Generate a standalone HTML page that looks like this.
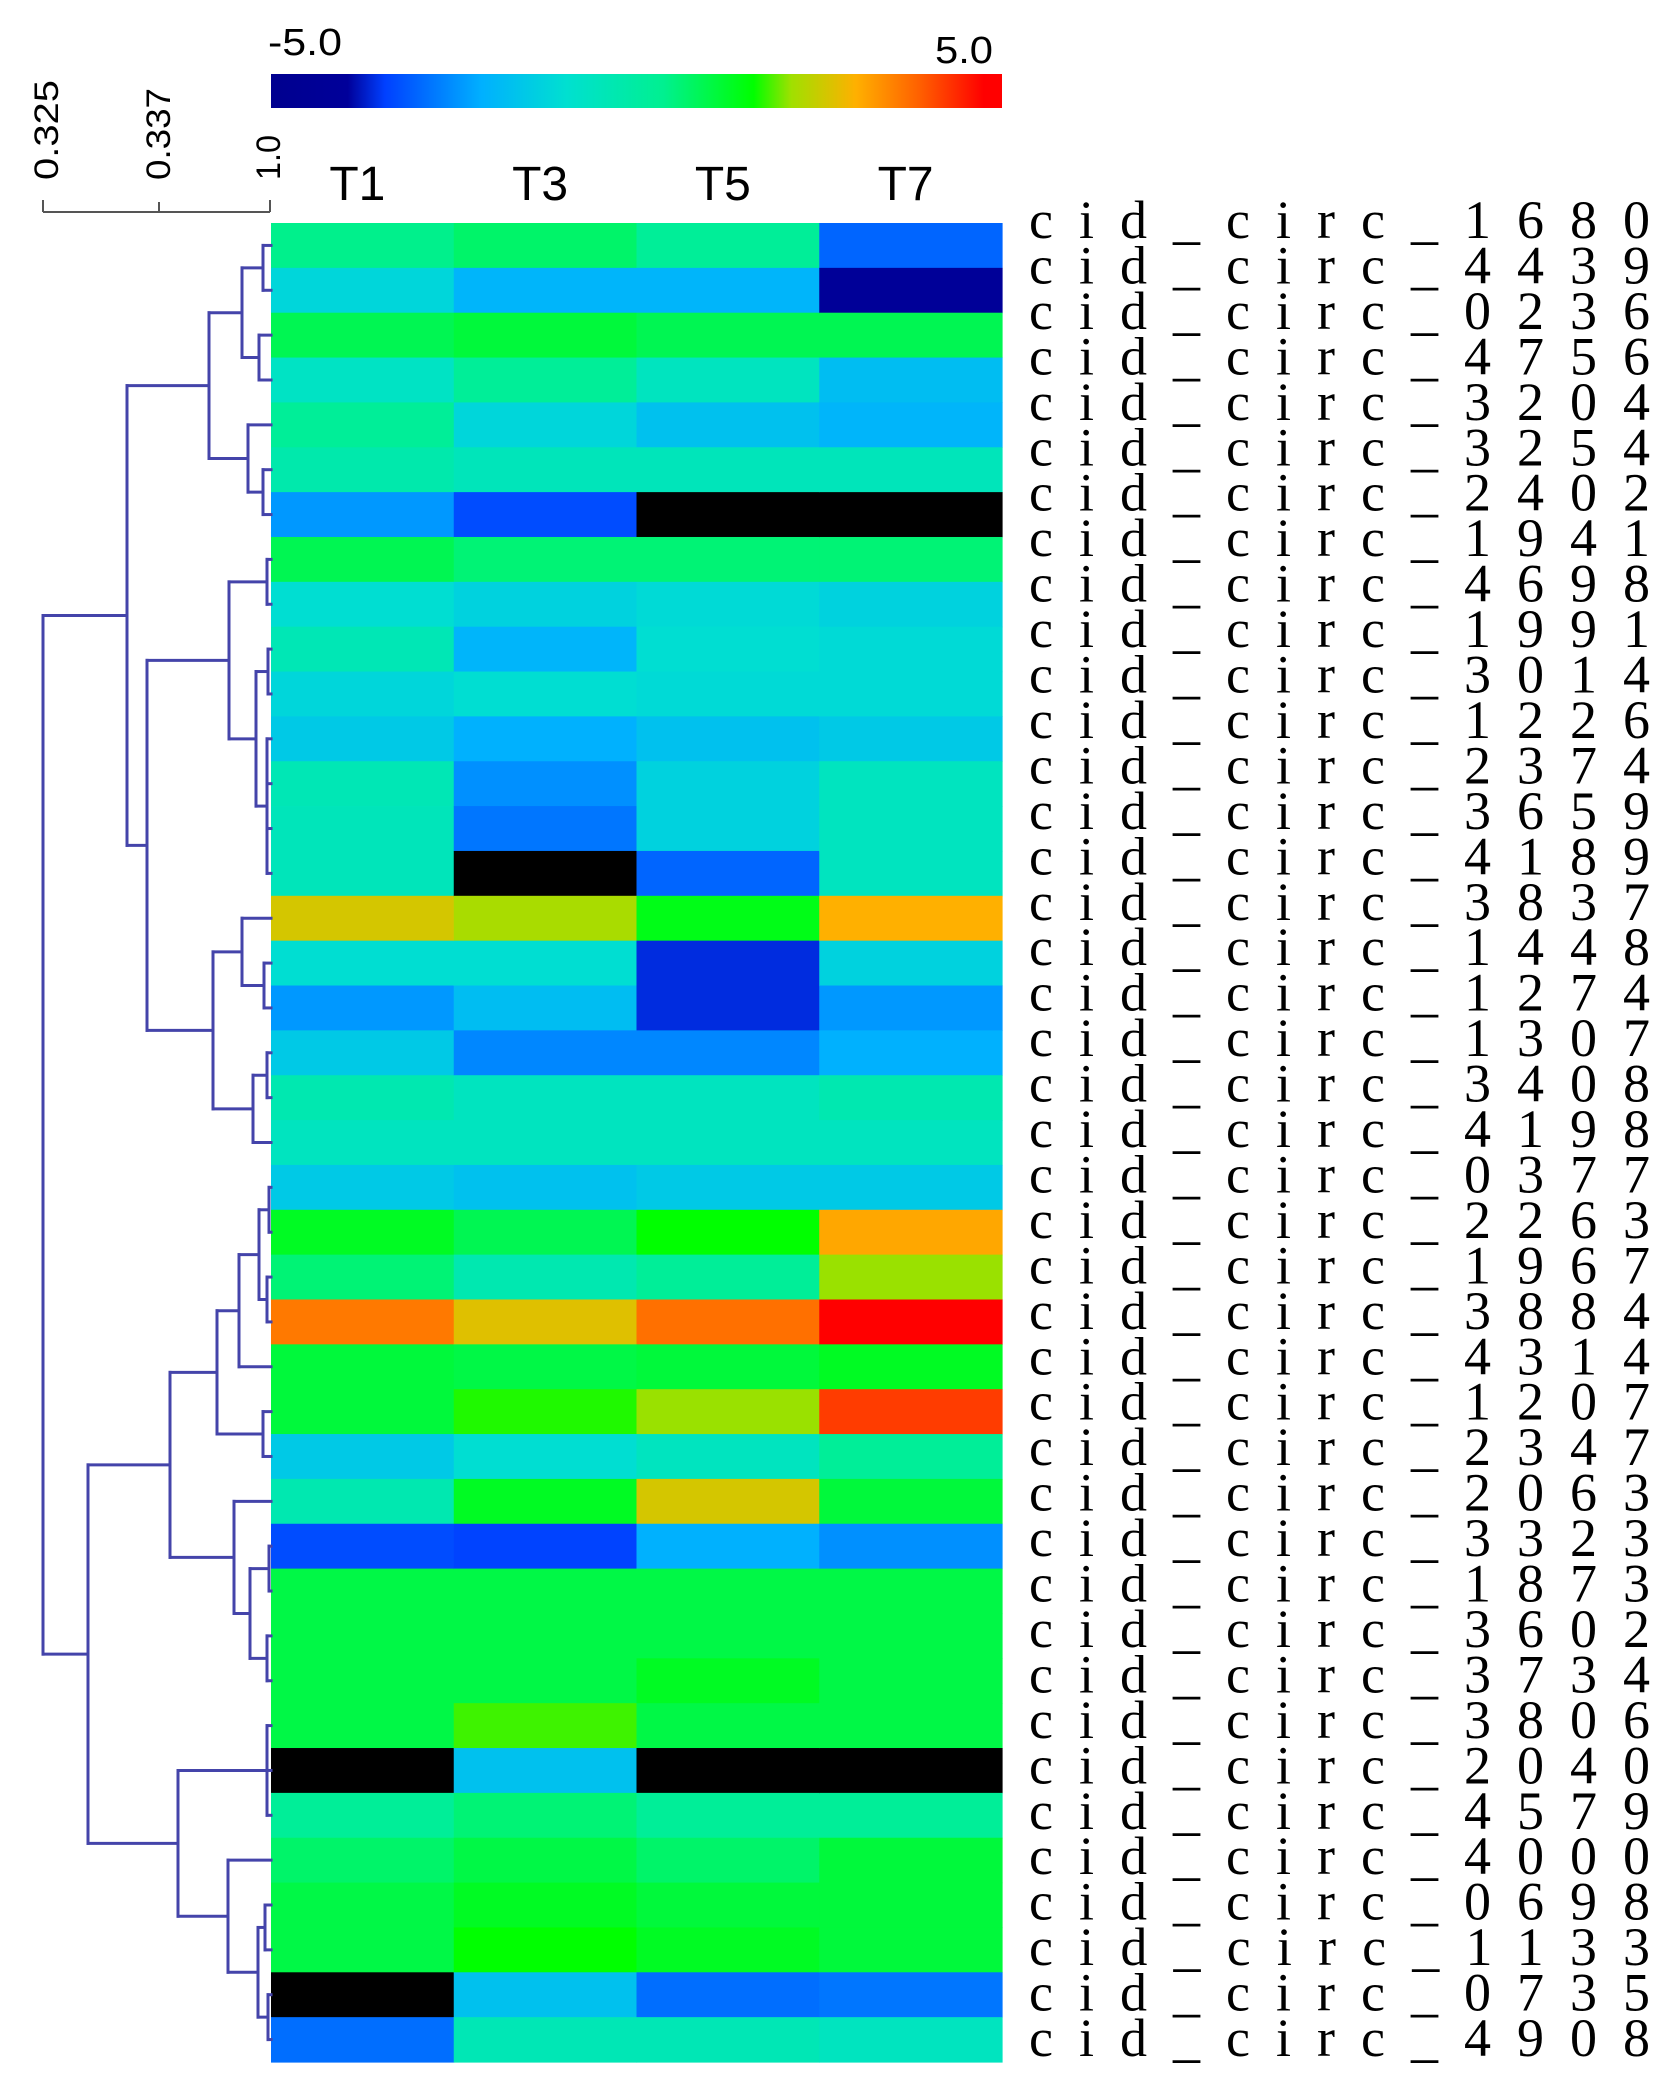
<!DOCTYPE html>
<html><head><meta charset="utf-8"><style>
html,body{margin:0;padding:0;background:#fff;}
svg{display:block;}
</style></head><body>
<svg id="chart" width="1675" height="2097" viewBox="0 0 1675 2097" xmlns="http://www.w3.org/2000/svg">
<defs>
<linearGradient id="cbar" x1="0" x2="1" y1="0" y2="0">
<stop offset="0" stop-color="#00008f"/><stop offset="0.105" stop-color="#00009a"/>
<stop offset="0.156" stop-color="#0040ff"/><stop offset="0.288" stop-color="#00b0ff"/>
<stop offset="0.405" stop-color="#00e0d0"/><stop offset="0.537" stop-color="#00f090"/>
<stop offset="0.66" stop-color="#00ff00"/><stop offset="0.712" stop-color="#a0e000"/>
<stop offset="0.80" stop-color="#ffb000"/><stop offset="0.887" stop-color="#ff6000"/>
<stop offset="0.975" stop-color="#ff0000"/><stop offset="1" stop-color="#ff0000"/>
</linearGradient>
</defs>
<rect x="271" y="74" width="731" height="34" fill="url(#cbar)"/>
<text x="268" y="55" font-family="Liberation Sans, sans-serif" font-size="38" textLength="74" lengthAdjust="spacingAndGlyphs">-5.0</text>
<text x="993" y="63" text-anchor="end" font-family="Liberation Sans, sans-serif" font-size="38" textLength="58" lengthAdjust="spacingAndGlyphs">5.0</text>
<g stroke="#555" stroke-width="2" fill="none">
<line x1="43" y1="212" x2="270" y2="212"/><line x1="43" y1="200" x2="43" y2="212"/><line x1="159" y1="202" x2="159" y2="212"/><line x1="270" y1="200" x2="270" y2="212"/>
</g>
<text transform="translate(58,180) rotate(-90)" font-family="Liberation Sans, sans-serif" font-size="34" textLength="100" lengthAdjust="spacingAndGlyphs">0.325</text>
<text transform="translate(170,180) rotate(-90)" font-family="Liberation Sans, sans-serif" font-size="34" textLength="92" lengthAdjust="spacingAndGlyphs">0.337</text>
<text transform="translate(280,180) rotate(-90)" font-family="Liberation Sans, sans-serif" font-size="34" textLength="45" lengthAdjust="spacingAndGlyphs">1.0</text>
<g id="cells"></g><g id="cols"></g><g id="rows"></g><g id="dendro"></g>
</svg>
<script>
const columns = ["T1","T3","T5","T7"];
const genes = ["cid_circ_1680","cid_circ_4439","cid_circ_0236","cid_circ_4756","cid_circ_3204","cid_circ_3254","cid_circ_2402","cid_circ_1941","cid_circ_4698","cid_circ_1991","cid_circ_3014","cid_circ_1226","cid_circ_2374","cid_circ_3659","cid_circ_4189","cid_circ_3837","cid_circ_1448","cid_circ_1274","cid_circ_1307","cid_circ_3408","cid_circ_4198","cid_circ_0377","cid_circ_2263","cid_circ_1967","cid_circ_3884","cid_circ_4314","cid_circ_1207","cid_circ_2347","cid_circ_2063","cid_circ_3323","cid_circ_1873","cid_circ_3602","cid_circ_3734","cid_circ_3806","cid_circ_2040","cid_circ_4579","cid_circ_4000","cid_circ_0698","cid_circ_1133","cid_circ_0735","cid_circ_4908"];
const valsT1 = [0.4,-1.2,0.9,-0.7,0.2,-0.2,-2.4,0.9,-1.0,-0.4,-1.2,-1.5,-0.4,-0.5,-0.5,2.6,-1.0,-2.4,-1.5,-0.3,-0.6,-1.5,1.3,0.6,3.6,1.1,1.1,-1.5,-0.3,-3.3,1.0,1.0,1.0,1.0,null,0.2,0.7,1.0,1.0,null,-2.9];
const valsT3 = [0.7,-2.0,1.1,0.2,-1.2,-0.5,-3.3,0.6,-1.3,-2.0,-1.0,-2.1,-2.5,-2.8,null,2.2,-1.0,-1.8,-2.6,-0.6,-0.6,-1.7,0.9,-0.3,2.7,1.0,1.7,-1.0,1.3,-3.4,1.0,1.0,1.0,1.8,-1.7,0.6,1.0,1.3,1.6,-1.7,-0.4];
const valsT5 = [0.2,-2.0,0.9,-0.6,-1.7,-0.5,null,0.6,-1.1,-1.0,-1.1,-1.7,-1.3,-1.3,-3.0,1.4,-3.6,-3.6,-2.6,-0.6,-0.6,-1.5,1.6,0.2,3.7,1.1,2.1,-0.6,2.6,-2.1,1.0,1.0,1.3,1.0,null,0.2,0.7,1.1,1.3,-2.9,-0.4];
const valsT7 = [-3.0,-4.1,0.9,-1.8,-2.0,-0.5,null,0.6,-1.3,-1.1,-1.1,-1.5,-0.6,-0.6,-0.6,3.0,-1.3,-2.4,-2.1,-0.3,-0.6,-1.5,3.1,2.1,4.8,1.3,4.2,0.2,1.1,-2.5,1.0,1.0,1.0,1.0,null,0.2,1.1,1.1,1.1,-2.8,-0.6];
const series = [valsT1,valsT3,valsT5,valsT7];
const tree = [43,
  [127,
    [209,[242,[263,0,1],[259,2,3]],[248,4,[263,5,6]]],
    [147,
      [229,[267,7,8],[256,[268,9,10],[267,11,12,13,14]]],
      [213,[242,15,[264,16,17]],[253,[267,18,19],20]]]],
  [88,
    [170,
      [217,[239,[259,[269,21,22],[267,23,24]],25],[263,26,27]],
      [234,28,[250,[269,29,30],[267,31,32]]]],
    [178,[267,33,34,35],[228,36,[258,[265,37,38],[268,39,40]]]]]];

const NS="http://www.w3.org/2000/svg";
const X0=271,X1=1002,Y0=223,Y1=2062;
const colW=(X1-X0)/columns.length, rowH=(Y1-Y0)/genes.length;
const xCol=i=>X0+i*colW, yRow=r=>Y0+r*rowH, yMid=r=>Y0+(r+0.5)*rowH;
const stops=[[0,[0,0,143]],[0.105,[0,0,154]],[0.156,[0,64,255]],[0.288,[0,176,255]],[0.405,[0,224,208]],[0.537,[0,240,144]],[0.66,[0,255,0]],[0.712,[160,224,0]],[0.80,[255,176,0]],[0.887,[255,96,0]],[0.975,[255,0,0]],[1,[255,0,0]]];
function color(v){
  if(v===null) return "#000";
  let p=Math.max(0,Math.min(1,(v+5)/10));
  for(let i=1;i<stops.length;i++){
    if(p<=stops[i][0]){const a=stops[i-1],b=stops[i];const t=(p-a[0])/(b[0]-a[0]||1);
      const c=a[1].map((q,k)=>Math.round(q+(b[1][k]-q)*t));return `rgb(${c})`;}
  }
  return "rgb(255,0,0)";
}
const gC=document.getElementById('cells');
series.forEach((vals,c)=>vals.forEach((v,r)=>{
  const el=document.createElementNS(NS,'rect');
  
  
  el.setAttribute('x',xCol(c));el.setAttribute('y',yRow(r));
  el.setAttribute('width',colW+0.6);el.setAttribute('height',rowH+0.6);
  el.setAttribute('fill',color(v));gC.appendChild(el);
}));
const gH=document.getElementById('cols');
columns.forEach((t,c)=>{
  const el=document.createElementNS(NS,'text');
  
  
  el.setAttribute('x',xCol(c)+colW/2-5);el.setAttribute('y',200);
  el.setAttribute('text-anchor','middle');el.setAttribute('font-family','Liberation Sans, sans-serif');
  el.setAttribute('font-size','48');el.textContent=t;gH.appendChild(el);
});
const gR=document.getElementById('rows');
const LB0=238,LB1=2056;
genes.forEach((g,r)=>{
  const el=document.createElementNS(NS,'text');
  
  
  el.setAttribute('x',1029);el.setAttribute('y',LB0+r*(LB1-LB0)/(genes.length-1));
  el.setAttribute('font-family','Liberation Serif, serif');el.setAttribute('font-size','54');
  el.setAttribute('textLength','621');el.setAttribute('lengthAdjust','spacing');
  el.textContent=g;gR.appendChild(el);
});
const gD=document.getElementById('dendro');
function line(x1,y1,x2,y2){
  const el=document.createElementNS(NS,'line');
  
  
  el.setAttribute('x1',x1);el.setAttribute('y1',y1);el.setAttribute('x2',x2);el.setAttribute('y2',y2);
  el.setAttribute('stroke','#4444aa');el.setAttribute('stroke-width','3');el.setAttribute('stroke-linecap','square');
  gD.appendChild(el);
}
function draw(n){
  if(typeof n==='number') return {x:X0,y:yMid(n)};
  const kids=n.slice(1).map(draw);
  const ys=kids.map(k=>k.y);const lo=Math.min(...ys),hi=Math.max(...ys);
  line(n[0],lo,n[0],hi);
  kids.forEach(k=>line(n[0],k.y,k.x,k.y));
  return {x:n[0],y:(lo+hi)/2};
}
draw(tree);
</script>
</body></html>
